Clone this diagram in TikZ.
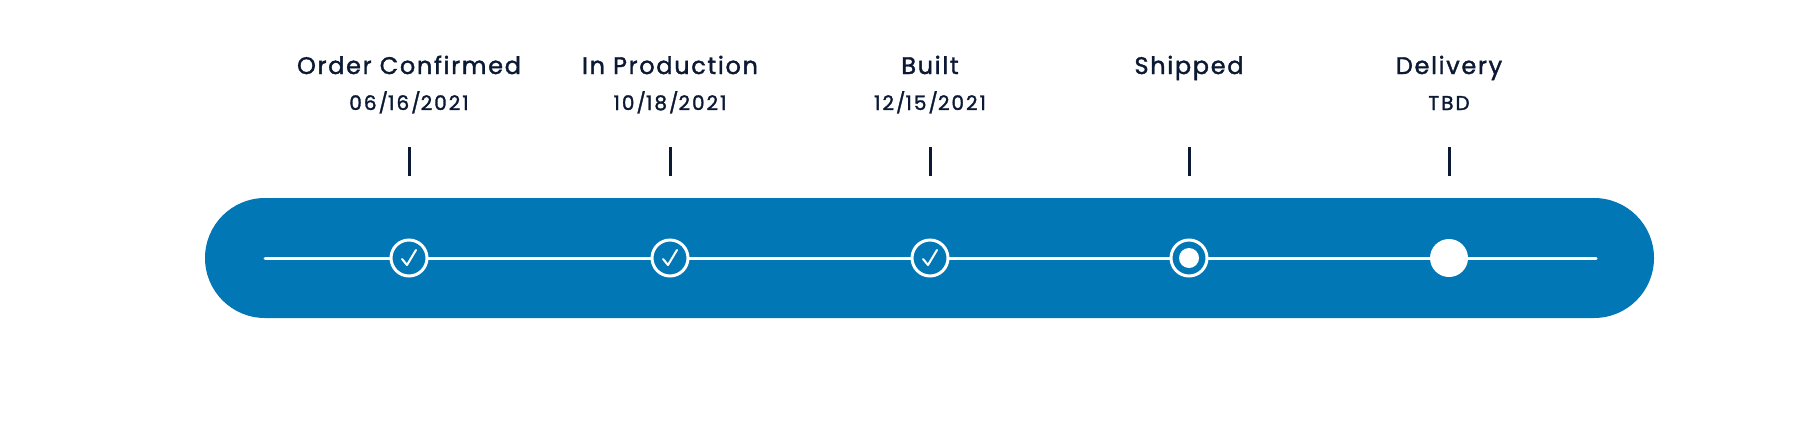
\documentclass[tikz,border=0pt]{standalone}
\usepackage{fontspec}
\setmainfont{Poppins}[LetterSpace=7,FakeBold=1.6]
\definecolor{barblue}{HTML}{0277B5}
\definecolor{ink}{HTML}{0B1933}
\tikzset{
  stage/.style={font=\fontsize{24}{28}\selectfont, text=ink, anchor=base},
  date/.style={font=\fontsize{20}{24}\selectfont\addfontfeatures{LetterSpace=10}, text=ink, anchor=base},
  ring/.style={circle, draw=white, line width=3pt, fill=barblue, minimum size=36pt, inner sep=0pt},
}
\begin{document}
\begin{tikzpicture}[x=1pt,y=-1pt]
\useasboundingbox (0,0) rectangle (1818,432);
\fill[barblue, rounded corners=60pt] (205,198) rectangle (1654,318);
\coordinate (lstart) at (265,258);
\coordinate (lend) at (1596,258);
\draw[white, line width=3pt, line cap=round] (lstart) -- (lend);

\foreach \x/\name/\lab/\dt in {409/s1/Order Confirmed/06\slash16\slash2021,
  670/s2/In Production/10\slash18\slash2021, 930/s3/Built/12\slash15\slash2021,
  1189/s4/Shipped/, 1449/s5/Delivery/TBD}
{ \node[stage] (\name-t) at (\x,74) {\lab};
  \node[date] (\name-d) at (\x,110) {\dt};
  \draw[ink, line width=3pt] (\x,147) -- (\x,176);
}
\foreach \x/\name in {409/s1,670/s2,930/s3}
{ \node[ring] (\name) at (\x,258) {};
  \draw[white, line width=2pt, line cap=round, line join=round]
    ([shift={(-7,1)}]\name.center) -- ([shift={(-2,7)}]\name.center) -- ([shift={(7,-8)}]\name.center);
}
\node[ring] (s4) at (1189,258) {};
\fill[white] (s4.center) circle (10pt);
\node[circle, fill=white, minimum size=38pt, inner sep=0pt] (s5) at (1449,258) {};
\end{tikzpicture}
\end{document}
